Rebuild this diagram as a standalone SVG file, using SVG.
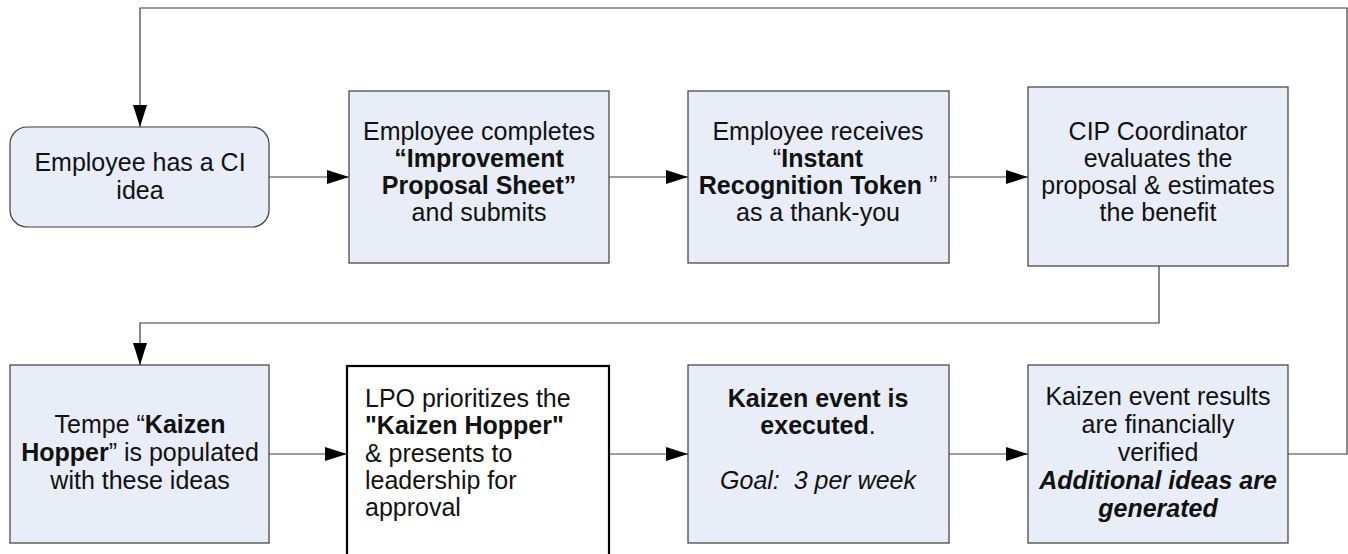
<svg xmlns="http://www.w3.org/2000/svg" width="1348" height="554" viewBox="0 0 1348 554">
  <style>
    .box { fill: #e8edf7; stroke: #3c3c3c; stroke-width: 1.2; }
    .plain { fill: #ffffff; stroke: #000000; stroke-width: 2.2; }
    .wire { fill: none; stroke: #3c3c3c; stroke-width: 1.2; }
    text { font-family: "Liberation Sans", Arial, sans-serif; font-size: 25px; fill: #111111; }
    .c { text-anchor: middle; }
    .b { font-weight: bold; }
    .i { font-style: italic; }
  </style>
  <defs>
    <marker id="arrow" markerUnits="userSpaceOnUse" markerWidth="22" markerHeight="14" refX="22" refY="7" orient="auto">
      <path d="M0,0 L22,7 L0,14 Z" fill="#000000"/>
    </marker>
  </defs>

  <!-- connectors -->
  <g id="connectors">
    <polyline class="wire" points="1288,454 1347,454 1347,8 140,8 140,127" marker-end="url(#arrow)"/>
    <line class="wire" x1="269" y1="177" x2="349" y2="177" marker-end="url(#arrow)"/>
    <line class="wire" x1="609" y1="177" x2="688" y2="177" marker-end="url(#arrow)"/>
    <line class="wire" x1="949" y1="177" x2="1028" y2="177" marker-end="url(#arrow)"/>
    <polyline class="wire" points="1159,266 1159,323 140,323 140,365" marker-end="url(#arrow)"/>
    <line class="wire" x1="269" y1="454" x2="347" y2="454" marker-end="url(#arrow)"/>
    <line class="wire" x1="609" y1="454" x2="688" y2="454" marker-end="url(#arrow)"/>
    <line class="wire" x1="949" y1="454" x2="1028" y2="454" marker-end="url(#arrow)"/>
  </g>

  <!-- top row -->
  <g id="idea">
    <rect class="box" x="10" y="127" width="259" height="100" rx="17" ry="17"/>
    <text class="c" x="140" y="171">Employee has a CI</text>
    <text class="c" x="140" y="199">idea</text>
  </g>

  <g id="proposal-sheet">
    <rect class="box" x="349" y="91" width="260" height="172"/>
    <text class="c" x="479" y="140">Employee completes</text>
    <text class="c b" x="479" y="167">“Improvement</text>
    <text class="c b" x="479" y="194">Proposal Sheet”</text>
    <text class="c" x="479" y="221">and submits</text>
  </g>

  <g id="recognition-token">
    <rect class="box" x="688" y="91" width="261" height="172"/>
    <text class="c" x="818" y="140">Employee receives</text>
    <text class="c" x="818" y="167">“<tspan class="b">Instant</tspan></text>
    <text class="c" x="818" y="194"><tspan class="b">Recognition Token</tspan> ”</text>
    <text class="c" x="818" y="221">as a thank-you</text>
  </g>

  <g id="cip-evaluation">
    <rect class="box" x="1028" y="87" width="260" height="179"/>
    <text class="c" x="1158" y="140">CIP Coordinator</text>
    <text class="c" x="1158" y="167">evaluates the</text>
    <text class="c" x="1158" y="194">proposal &amp; estimates</text>
    <text class="c" x="1158" y="221">the benefit</text>
  </g>

  <!-- bottom row -->
  <g id="kaizen-hopper">
    <rect class="box" x="10" y="365" width="259" height="178"/>
    <text class="c" x="140" y="433">Tempe “<tspan class="b">Kaizen</tspan></text>
    <text class="c" x="140" y="461"><tspan class="b">Hopper</tspan>” is populated</text>
    <text class="c" x="140" y="489">with these ideas</text>
  </g>

  <g id="lpo-prioritizes">
    <rect class="plain" x="347" y="366" width="262" height="240"/>
    <text x="365" y="407">LPO prioritizes the</text>
    <text class="b" x="365" y="434">"Kaizen Hopper"</text>
    <text x="365" y="462">&amp; presents to</text>
    <text x="365" y="489">leadership for</text>
    <text x="365" y="516">approval</text>
  </g>

  <g id="kaizen-event">
    <rect class="box" x="688" y="365" width="261" height="178"/>
    <text class="c b" x="818" y="407">Kaizen event is</text>
    <text class="c" x="818" y="434"><tspan class="b">executed</tspan>.</text>
    <text class="c i" x="818" y="489" xml:space="preserve">Goal:  3 per week</text>
  </g>

  <g id="results-verified">
    <rect class="box" x="1028" y="365" width="260" height="178"/>
    <text class="c" x="1158" y="405">Kaizen event results</text>
    <text class="c" x="1158" y="433">are financially</text>
    <text class="c" x="1158" y="461">verified</text>
    <text class="c b i" x="1158" y="489">Additional ideas are</text>
    <text class="c b i" x="1158" y="517">generated</text>
  </g>
</svg>
